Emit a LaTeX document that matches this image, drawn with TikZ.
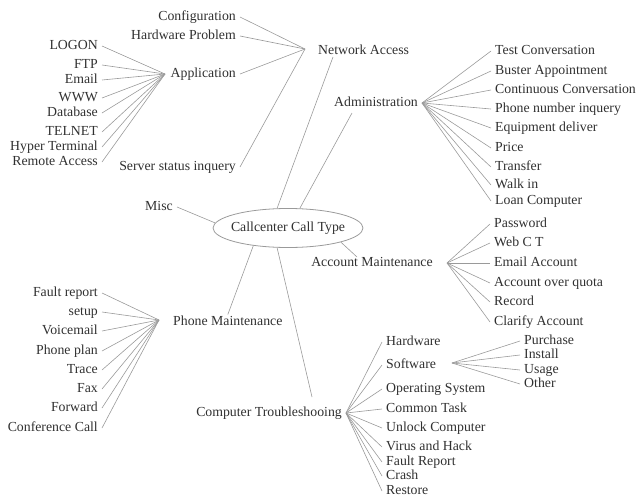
\documentclass[tikz,border=0pt]{standalone}
\usepackage{fontspec}
\setmainfont{Liberation Serif}
\usetikzlibrary{positioning,shapes.geometric}
\definecolor{linkgray}{HTML}{9A9A9A}
\definecolor{textgray}{HTML}{303030}

\begin{document}
\begin{tikzpicture}[x=1pt,y=-1pt,
  font=\fontsize{13.8}{15}\selectfont,text=textgray,
  lf/.style={anchor=east,inner xsep=4pt,inner ysep=1pt,text height=9.5pt,text depth=3pt},
  rt/.style={anchor=west,inner xsep=4pt,inner ysep=1pt,text height=9.5pt,text depth=3pt},
  br/.style={inner xsep=4pt,inner ysep=1pt,text height=9.5pt,text depth=3pt},
  root/.style={ellipse,draw=linkgray,line width=0.8pt,inner sep=0pt,
               minimum width=150pt,minimum height=39pt},
  link/.style={draw=linkgray,line width=0.6pt}]
  \useasboundingbox (0,0) rectangle (638,498);
  % centre
  \node[root] (ct) at (288,228) {\makebox[0pt]{Callcenter Call Type}};
  \node[lf] (misc) at (177,207) {Misc};
  \draw[link] (misc.east) -- (ct.176);
  % network access
  \node[rt] (net) at (314,51) {Network Access};
  \coordinate (nethub) at (305,49);
  \coordinate (netfoot) at (333,57);
  \draw[link] (netfoot) -- (ct.119);
  \node[lf] (conf) at (240,17) {Configuration};
  \node[lf] (hwp) at (240,36) {Hardware Problem};
  \node[lf] (app) at (240,74) {Application};
  \node[lf] (srv) at (240,167) {Server status inquery};
  \foreach \n in {conf,hwp,app,srv}
    \draw[link] (\n.east) -- (nethub);
  \coordinate (apphub) at (165,74);
  \foreach \t/\y [count=\i] in {LOGON/46,FTP/65,Email/80,WWW/98,Database/113,
      TELNET/132,Hyper Terminal/147,Remote Access/162}{
    \node[lf] (app\i) at (102,\y) {\t};
    \draw[link] (app\i.east) -- (apphub);
  }
  % administration
  \node[lf] (adm) at (422,103) {Administration};
  \coordinate (admfoot) at (352,113);
  \draw[link] (admfoot) -- (ct.59);
  \foreach \t/\y [count=\i] in {Test Conversation/51,Buster Appointment/71,
      Continuous Conversation/90,Phone number inquery/109,Equipment deliver/128,
      Price/148,Transfer/167,Walk in/185,Loan Computer/201}{
    \node[rt] (adm\i) at (491,\y) {\t};
    \draw[link] (adm.east) -- (adm\i.west);
  }
  % account maintenance
  \node[br] (acc) at (372,263) {Account Maintenance};
  \coordinate (acchub) at (447,263);
  \coordinate (acctop) at (357,257);
  \draw[link] (ct.-15) -- (acctop);
  \foreach \t/\y [count=\i] in {Password/224,Web C T/243,Email Account/263,
      Account over quota/283,Record/302,Clarify Account/322}{
    \node[rt] (acc\i) at (490,\y) {\t};
    \draw[link] (acchub) -- (acc\i.west);
  }
  % phone maintenance
  \node[rt] (pm) at (169,322) {Phone Maintenance};
  \coordinate (pmhub) at (159,320);
  \draw[link] (ct.207) -- (pm.north);
  \foreach \t/\y [count=\i] in {Fault report/293,setup/312,Voicemail/331,
      Phone plan/351,Trace/370,Fax/389,Forward/408,Conference Call/428}{
    \node[lf] (pm\i) at (102,\y) {\t};
    \draw[link] (pm\i.east) -- (pmhub);
  }
  % computer troubleshooting
  \node[lf] (cts) at (346,413) {Computer Troubleshooing};
  \coordinate (ctstop) at (312,397);
  \draw[link] (ct.241) -- (ctstop);
  \foreach \t/\y [count=\i] in {Hardware/342,Software/365,Operating System/389,
      Common Task/409,Unlock Computer/428,Virus and Hack/447,Fault Report/462,
      Crash/476,Restore/491}{
    \node[rt] (cts\i) at (382,\y) {\t};
    \draw[link] (cts.east) -- (cts\i.west);
  }
  \coordinate (swhub) at (452,363);
  \foreach \t/\y [count=\i] in {Purchase/341,Install/355,Usage/370,Other/384}{
    \node[rt] (sw\i) at (520,\y) {\t};
    \draw[link] (swhub) -- (sw\i.west);
  }
\end{tikzpicture}
\end{document}
